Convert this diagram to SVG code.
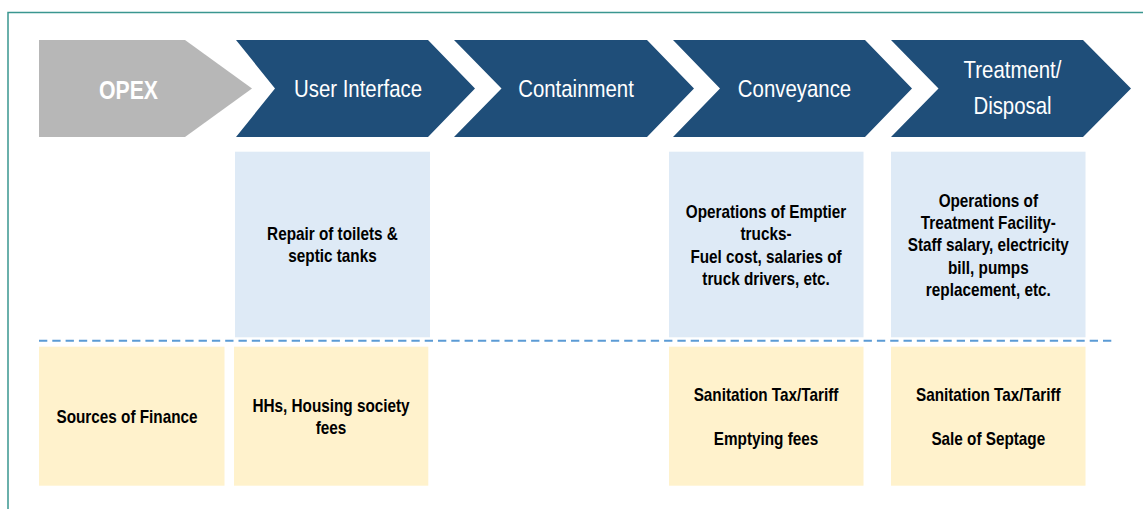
<svg xmlns="http://www.w3.org/2000/svg" width="1143" height="509" viewBox="0 0 1143 509">
<style>
.chev{fill:#1f4e79}
.opex{fill:#b7b7b7}
.cost{fill:#deeaf6}
.fin{fill:#fff2cc}
.hd{font-family:"Liberation Sans",Arial,sans-serif;font-size:24px;fill:#ffffff;text-anchor:middle}
.hdb{font-family:"Liberation Sans",Arial,sans-serif;font-size:25px;font-weight:bold;fill:#ffffff;text-anchor:middle}
.bd{font-family:"Liberation Sans",Arial,sans-serif;font-size:18px;font-weight:bold;fill:#000000;text-anchor:middle}
</style>
<rect width="1143" height="509" fill="#ffffff"/>
<path d="M8,509 V12.5 H1143" fill="none" stroke="#3a9690" stroke-width="1.5"/>

<g id="opex">
<polygon class="opex" points="39,40 185,40 252,88.5 185,137 39,137"/>
<g transform="translate(128.5,0) scale(0.85,1)"><text class="hdb" x="0" y="99">OPEX</text></g>
</g>
<g id="user-interface">
<polygon class="chev" points="236,40 428,40 475,88.5 428,137 236,137 275,88.5"/>
<g transform="translate(358,0) scale(0.85,1)"><text class="hd" x="0" y="97">User Interface</text></g>
</g>
<g id="containment">
<polygon class="chev" points="454,40 647,40 694,88.5 647,137 454,137 501.5,88.5"/>
<g transform="translate(576,0) scale(0.85,1)"><text class="hd" x="0" y="97">Containment</text></g>
</g>
<g id="conveyance">
<polygon class="chev" points="673,40 865,40 912,88.5 865,137 673,137 720,88.5"/>
<g transform="translate(794.5,0) scale(0.85,1)"><text class="hd" x="0" y="97">Conveyance</text></g>
</g>
<g id="treatment">
<polygon class="chev" points="891,40 1083,40 1131,88.5 1083,137 891,137 938.5,88.5"/>
<g transform="translate(1012.5,0) scale(0.85,1)"><text class="hd" x="0" y="78">Treatment/</text><text class="hd" x="0" y="114">Disposal</text></g>
</g>

<g id="connectors">
<line x1="39" y1="340.7" x2="1114" y2="340.7" stroke="#5b9bd5" stroke-width="2" stroke-dasharray="8.3 5"/>
</g>

<g id="cost-ui">
<rect class="cost" x="235" y="151.7" width="195" height="185.6"/>
<g transform="translate(332.5,0) scale(0.85,1)"><text class="bd" x="0" y="240">Repair of toilets &amp;</text><text class="bd" x="0" y="262.5">septic tanks</text></g>
</g>
<g id="cost-conveyance">
<rect class="cost" x="669" y="151.7" width="194.5" height="185.6"/>
<g transform="translate(766,0) scale(0.85,1)"><text class="bd" x="0" y="218.3">Operations of Emptier</text><text class="bd" x="0" y="240.5">trucks-</text><text class="bd" x="0" y="262.7">Fuel cost, salaries of</text><text class="bd" x="0" y="285">truck drivers, etc.</text></g>
</g>
<g id="cost-treatment">
<rect class="cost" x="891" y="151.7" width="194.5" height="185.6"/>
<g transform="translate(988.3,0) scale(0.85,1)"><text class="bd" x="0" y="206.7">Operations of</text><text class="bd" x="0" y="229">Treatment Facility-</text><text class="bd" x="0" y="251.3">Staff salary, electricity</text><text class="bd" x="0" y="273.6">bill, pumps</text><text class="bd" x="0" y="296">replacement, etc.</text></g>
</g>

<g id="fin-label">
<rect class="fin" x="39" y="346.7" width="185.5" height="139"/>
<g transform="translate(127,0) scale(0.85,1)"><text class="bd" x="0" y="423.3">Sources of Finance</text></g>
</g>
<g id="fin-ui">
<rect class="fin" x="234" y="346.7" width="194.3" height="139"/>
<g transform="translate(331,0) scale(0.85,1)"><text class="bd" x="0" y="412.3">HHs, Housing society</text><text class="bd" x="0" y="433.8">fees</text></g>
</g>
<g id="fin-conveyance">
<rect class="fin" x="669" y="346.7" width="194.5" height="139"/>
<g transform="translate(766,0) scale(0.85,1)"><text class="bd" x="0" y="401">Sanitation Tax/Tariff</text><text class="bd" x="0" y="445">Emptying fees</text></g>
</g>
<g id="fin-treatment">
<rect class="fin" x="891" y="346.7" width="194.5" height="139"/>
<g transform="translate(988.3,0) scale(0.85,1)"><text class="bd" x="0" y="401">Sanitation Tax/Tariff</text><text class="bd" x="0" y="445">Sale of Septage</text></g>
</g>
</svg>
